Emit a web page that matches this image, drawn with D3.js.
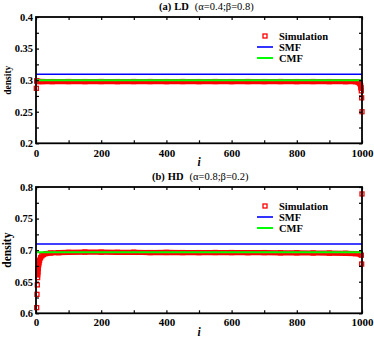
<!DOCTYPE html>
<html>
<head>
<meta charset="utf-8">
<script src="https://cdn.jsdelivr.net/npm/d3@7"></script>
<style>
  body { margin: 0; background: #fff; }
  text { font-family: "Liberation Serif", "Times New Roman", serif; }
</style>
</head>
<body>
<div id="chart"></div>
<script>
// site index ticks
var iMajor = [0, 200, 400, 600, 800, 1000];
var iMinor = [100, 300, 500, 700, 900];

// (a) LD  alpha=0.4, beta=0.8
var ldTicks = [0.2, 0.25, 0.3, 0.35, 0.4];
var ldMinor = [0.225, 0.275, 0.325, 0.375];
var ldSimI   = [1, 2, 3, 5, 10, 20, 50, 100, 150, 200, 250, 300, 350, 400, 450, 500, 550, 600, 650, 700, 750, 800, 850, 900, 950, 980, 988, 992, 994, 996, 997, 998, 999, 1000];
var ldSimRho = [0.287, 0.299, 0.298, 0.298, 0.2978, 0.2978, 0.2977, 0.2978, 0.2977, 0.2978, 0.2977, 0.2978, 0.2978, 0.2977, 0.2978, 0.2977, 0.2978, 0.2977, 0.2978, 0.2977, 0.2978, 0.2977, 0.2978, 0.2977, 0.2976, 0.2975, 0.297, 0.2955, 0.294, 0.291, 0.288, 0.283, 0.272, 0.25];
var ldSMF = 0.3093;
var ldCMF = 0.2998;

// (b) HD  alpha=0.8, beta=0.2
var hdTicks = [0.6, 0.65, 0.7, 0.75, 0.8];
var hdMinor = [0.625, 0.675, 0.725, 0.775];
var hdSimI   = [2, 3, 4, 5, 6, 7, 8, 9, 11, 14, 18, 23, 30, 45, 70, 100, 150, 200, 250, 300, 350, 400, 450, 500, 550, 600, 650, 700, 750, 800, 850, 900, 950, 980, 995, 998, 999, 1000];
var hdSimRho = [0.609, 0.630, 0.645, 0.6565, 0.665, 0.6713, 0.676, 0.680, 0.684, 0.688, 0.691, 0.693, 0.6945, 0.6955, 0.696, 0.6965, 0.697, 0.6968, 0.6965, 0.6967, 0.6962, 0.6964, 0.6962, 0.6961, 0.6963, 0.6962, 0.696, 0.6961, 0.6958, 0.6958, 0.6955, 0.6953, 0.695, 0.6945, 0.6935, 0.692, 0.678, 0.789];
var hdSMF = 0.7097;
var hdCMF = 0.6966;

var legendNames = ["Simulation", "SMF", "CMF"];
var red = "#ff0000", blue = "#0000ff", green = "#00ff00";

var svg = d3.select("#chart").append("svg")
    .attr("width", 374)
    .attr("height", 338);

var x = d3.scaleLinear().domain([0, 1000]).range([36, 362]);

function panel(cfg) {
    var y = d3.scaleLinear().domain([cfg.ticks[0], cfg.ticks[cfg.ticks.length - 1]]).range([cfg.bottom, cfg.top]);
    var g = svg.append("g");
    var major = new Set(iMajor);
    var yMajor = new Set(cfg.ticks);

    // simulation: dense squares merge into a band where neighbours overlap
    var d = "";
    for (var k = 1; k < cfg.simI.length; k++) {
        var y0 = y(cfg.simRho[k - 1]), y1 = y(cfg.simRho[k]);
        if (Math.abs(y1 - y0) < 5.5) {
            d += "M" + x(cfg.simI[k - 1]) + "," + y0 + "L" + x(cfg.simI[k]) + "," + y1;
        }
    }
    g.append("path")
        .attr("d", d)
        .attr("fill", "none")
        .attr("stroke", red)
        .attr("stroke-width", 5.2)
        .attr("stroke-linejoin", "round");

    g.selectAll("rect.sim")
        .data(cfg.simI)
        .enter()
        .append("rect")
        .attr("class", "sim")
        .attr("x", function(d) { return x(d) - 2; })
        .attr("y", function(d, k) { return y(cfg.simRho[k]) - 2; })
        .attr("width", 4)
        .attr("height", 4)
        .attr("fill", "none")
        .attr("stroke", red)
        .attr("stroke-width", 1.3);

    // mean-field lines
    g.append("line")
        .attr("x1", x(0)).attr("x2", x(1000))
        .attr("y1", y(cfg.smf)).attr("y2", y(cfg.smf))
        .attr("stroke", blue).attr("stroke-width", 1.6);
    g.append("line")
        .attr("x1", x(0)).attr("x2", x(1000))
        .attr("y1", y(cfg.cmf)).attr("y2", y(cfg.cmf))
        .attr("stroke", green).attr("stroke-width", 2);

    // axes, ticks pointing inward on all four sides
    var xb = g.append("g")
        .attr("transform", "translate(0," + cfg.bottom + ")")
        .call(d3.axisBottom(x).tickValues(iMajor.concat(iMinor)).tickSize(-3).tickPadding(cfg.xPad)
            .tickFormat(function(d) { return major.has(d) ? d : ""; }));
    g.append("g")
        .attr("transform", "translate(0," + cfg.top + ")")
        .call(d3.axisTop(x).tickValues(iMajor.concat(iMinor)).tickSize(-3).tickFormat(""));
    var yl = g.append("g")
        .attr("transform", "translate(36,0)")
        .call(d3.axisLeft(y).tickValues(cfg.ticks.concat(cfg.minor)).tickSize(-3).tickPadding(3)
            .tickFormat(function(d) { return yMajor.has(d) ? String(d) : ""; }));
    g.append("g")
        .attr("transform", "translate(362,0)")
        .call(d3.axisRight(y).tickValues(cfg.ticks.concat(cfg.minor)).tickSize(-3).tickFormat(""));

    g.selectAll(".domain").remove();
    g.selectAll(".tick line").attr("stroke", "#000").attr("stroke-width", 1.2);
    xb.selectAll("text").attr("font-size", 11).attr("font-weight", "bold").attr("fill", "#000")
        .attr("font-family", "Liberation Serif");
    yl.selectAll("text").attr("font-size", 10.5).attr("font-weight", "bold").attr("fill", "#000")
        .attr("font-family", "Liberation Serif");

    // frame
    g.append("rect")
        .attr("x", 36).attr("y", cfg.top)
        .attr("width", 326).attr("height", cfg.bottom - cfg.top)
        .attr("fill", "none").attr("stroke", "#000").attr("stroke-width", 1.8);

    // axis titles
    g.append("text")
        .attr("x", 199).attr("y", cfg.bottom + 22.5)
        .attr("text-anchor", "middle")
        .attr("font-size", 11.5).attr("font-style", "italic").attr("font-weight", "bold")
        .text("i");
    g.append("text")
        .attr("transform", "translate(" + cfg.yLabelX + "," + ((cfg.top + cfg.bottom) / 2) + ") rotate(-90)")
        .attr("text-anchor", "middle")
        .attr("font-size", cfg.yLabelSize).attr("font-weight", "bold")
        .text("density");

    // panel title
    var t = g.append("text")
        .attr("x", cfg.titleX).attr("y", cfg.top - 7.5)
        .attr("font-size", 10.5);
    t.append("tspan").attr("font-weight", "bold").text(cfg.tag);
    t.append("tspan").attr("font-weight", "bold").attr("dx", 3).text(cfg.phase);
    t.append("tspan").attr("dx", 6).text(cfg.params);

    // legend
    var lg = g.append("g").attr("transform", "translate(0," + cfg.top + ")");
    var rows = [19, 30, 41];
    lg.append("rect")
        .attr("x", 263).attr("y", rows[0] - 2).attr("width", 4).attr("height", 4)
        .attr("fill", "none").attr("stroke", red).attr("stroke-width", 1.3);
    lg.append("line").attr("x1", 257).attr("x2", 273).attr("y1", rows[1]).attr("y2", rows[1])
        .attr("stroke", blue).attr("stroke-width", 1.6);
    lg.append("line").attr("x1", 257).attr("x2", 273).attr("y1", rows[2]).attr("y2", rows[2])
        .attr("stroke", green).attr("stroke-width", 2);
    lg.selectAll("text.leg")
        .data(legendNames)
        .enter()
        .append("text")
        .attr("class", "leg")
        .attr("x", 279)
        .attr("y", function(d, k) { return rows[k]; })
        .attr("dy", "0.35em")
        .attr("font-size", 10.5).attr("font-weight", "bold")
        .text(function(d) { return d; });
}

panel({
    top: 17, bottom: 143.3, ticks: ldTicks, minor: ldMinor,
    simI: ldSimI, simRho: ldSimRho, smf: ldSMF, cmf: ldCMF,
    xPad: 5.5, yLabelX: 10.5, yLabelSize: 9.5,
    titleX: 159, tag: "(a)", phase: "LD", params: "(\u03b1=0.4;\u03b2=0.8)"
});
panel({
    top: 187, bottom: 313.3, ticks: hdTicks, minor: hdMinor,
    simI: hdSimI, simRho: hdSimRho, smf: hdSMF, cmf: hdCMF,
    xPad: 4.8, yLabelX: 10.5, yLabelSize: 11.5,
    titleX: 152, tag: "(b)", phase: "HD", params: "(\u03b1=0.8;\u03b2=0.2)"
});
</script>
</body>
</html>
